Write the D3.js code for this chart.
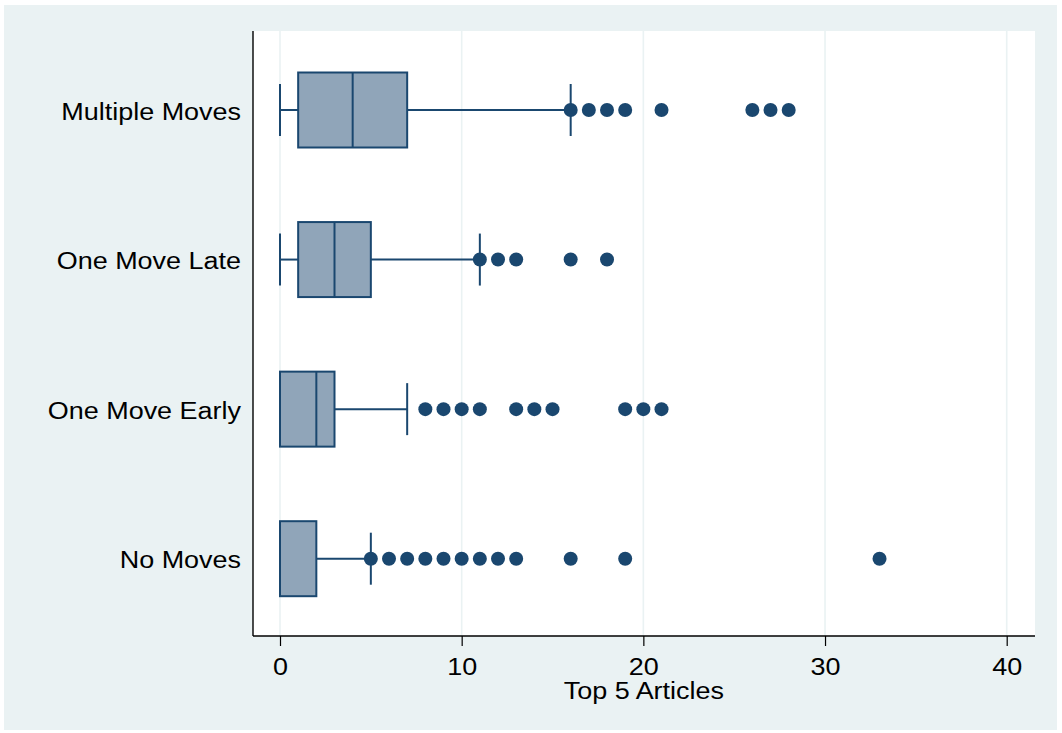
<!DOCTYPE html>
<html>
<head>
<meta charset="utf-8">
<script src="https://cdn.jsdelivr.net/npm/d3@7"></script>
<style>
  html, body { margin: 0; padding: 0; background: #ffffff; }
  svg { display: block; }
  text { font-family: "Liberation Sans", Arial, sans-serif; fill: #000; }
</style>
</head>
<body>
<svg id="chart" width="1062" height="733"></svg>
<script>
// ---- data ----
const categories = ["Multiple Moves", "One Move Late", "One Move Early", "No Moves"];
const whiskerLow = [0, 0, 0, 0];
const q1 = [1, 1, 0, 0];
const median = [4, 3, 2, 0];
const q3 = [7, 5, 3, 2];
const whiskerHigh = [16, 11, 7, 5];
const outliers = [
  [16, 17, 18, 19, 21, 26, 27, 28],
  [11, 12, 13, 16, 18],
  [8, 9, 10, 11, 13, 14, 15, 19, 20, 21],
  [5, 6, 7, 8, 9, 10, 11, 12, 13, 16, 19, 33]
];
const xTicks = [0, 10, 20, 30, 40];
const xTitle = "Top 5 Articles";

// ---- layout ----
const W = 1062, H = 733;
const plot = { left: 253, right: 1035, top: 31, bottom: 636 };
const navy = "#1a476f";
const boxFill = "#90a5b9";
const bg = "#eaf2f3";
const stretch = 1.1;

const svg = d3.select("#chart");

svg.append("rect").attr("x", 4).attr("y", 5).attr("width", 1053).attr("height", 725).attr("fill", bg);
svg.append("rect").attr("x", plot.left).attr("y", plot.top)
  .attr("width", plot.right - plot.left).attr("height", plot.bottom - plot.top).attr("fill", "#fff");

const x = d3.scaleLinear().domain([0, 40]).range([280, 1006.7]);
const y = d3.scalePoint().domain(categories).range([110, 558.7]);

// gridlines
svg.append("g").selectAll("line").data(xTicks).join("line")
  .attr("x1", d => x(d)).attr("x2", d => x(d))
  .attr("y1", plot.top).attr("y2", plot.bottom)
  .attr("stroke", bg).attr("stroke-width", 1.6);

// x axis
const xAxis = d3.axisBottom(x).tickValues(xTicks).tickSize(10).tickFormat(d3.format("d"));
const gx = svg.append("g").attr("transform", `translate(0,${plot.bottom})`).call(xAxis);
gx.select(".domain").remove();
gx.selectAll(".tick line").attr("stroke", "#000").attr("stroke-width", 1.2);
gx.selectAll(".tick text").remove();
gx.selectAll(".tick").append("g")
  .attr("transform", `translate(0,39) scale(${stretch},1)`)
  .append("text").attr("text-anchor", "middle").attr("font-size", 24.5)
  .text(d => d3.format("d")(d));

svg.append("line").attr("x1", plot.left).attr("x2", plot.right)
  .attr("y1", plot.bottom).attr("y2", plot.bottom).attr("stroke", "#000").attr("stroke-width", 1.4);
svg.append("line").attr("x1", plot.left).attr("x2", plot.left)
  .attr("y1", plot.top).attr("y2", plot.bottom).attr("stroke", "#000").attr("stroke-width", 1.4);

// x title
svg.append("g").attr("transform", `translate(${(x(0) + x(40)) / 2 + 0.5},699) scale(${stretch},1)`)
  .append("text").attr("text-anchor", "middle").attr("font-size", 24.5).text(xTitle);

// category labels
svg.append("g").selectAll("g").data(categories).join("g")
  .attr("transform", d => `translate(241,${y(d) + 9.5}) scale(${stretch},1)`)
  .append("text").attr("text-anchor", "end").attr("font-size", 24.5).text(d => d);

// boxes
const boxH = 75, capH = 52, r = 7;
const g = svg.append("g").selectAll("g").data(categories).join("g");
g.each(function(cat, i) {
  const s = d3.select(this);
  const cy = y(cat);
  // whiskers
  if (whiskerLow[i] < q1[i]) {
    s.append("line").attr("x1", x(whiskerLow[i])).attr("x2", x(q1[i]))
      .attr("y1", cy).attr("y2", cy).attr("stroke", navy).attr("stroke-width", 2);
    s.append("line").attr("x1", x(whiskerLow[i])).attr("x2", x(whiskerLow[i]))
      .attr("y1", cy - capH / 2).attr("y2", cy + capH / 2).attr("stroke", navy).attr("stroke-width", 2);
  }
  s.append("line").attr("x1", x(q3[i])).attr("x2", x(whiskerHigh[i]))
    .attr("y1", cy).attr("y2", cy).attr("stroke", navy).attr("stroke-width", 2);
  s.append("line").attr("x1", x(whiskerHigh[i])).attr("x2", x(whiskerHigh[i]))
    .attr("y1", cy - capH / 2).attr("y2", cy + capH / 2).attr("stroke", navy).attr("stroke-width", 2);
  // box
  s.append("rect").attr("x", x(q1[i])).attr("y", cy - boxH / 2)
    .attr("width", x(q3[i]) - x(q1[i])).attr("height", boxH)
    .attr("fill", boxFill).attr("stroke", navy).attr("stroke-width", 2);
  s.append("line").attr("x1", x(median[i])).attr("x2", x(median[i]))
    .attr("y1", cy - boxH / 2).attr("y2", cy + boxH / 2).attr("stroke", navy).attr("stroke-width", 2);
  // outliers
  s.selectAll("circle").data(outliers[i]).join("circle")
    .attr("cx", d => x(d)).attr("cy", cy).attr("r", r).attr("fill", navy);
});
</script>
</body>
</html>
